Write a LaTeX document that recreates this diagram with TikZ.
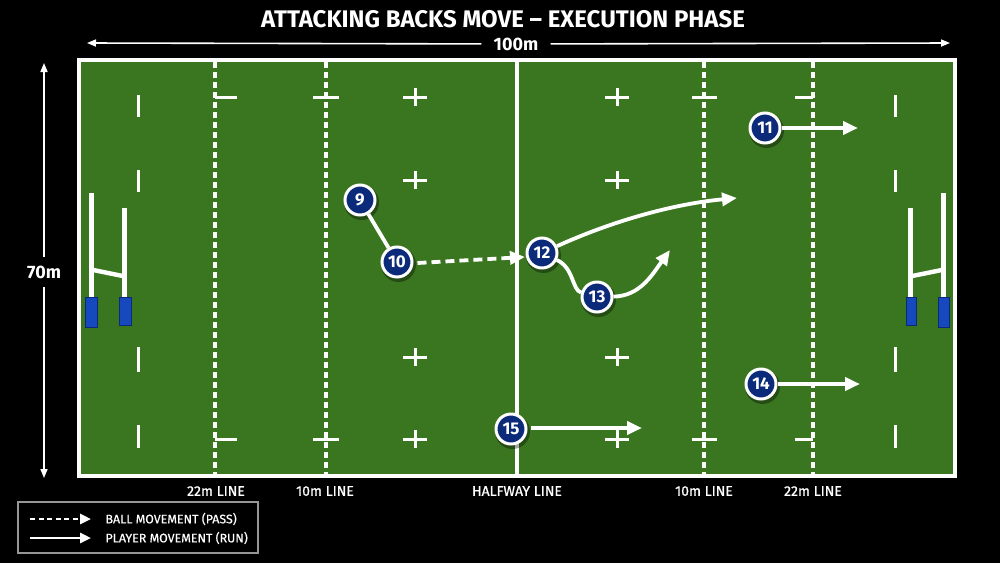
\documentclass[tikz,border=0pt]{standalone}
\usepackage{fontspec}
\setmainfont{Fira Sans}
\usetikzlibrary{arrows.meta}
\definecolor{grass}{RGB}{58,118,32}
\definecolor{navy}{RGB}{12,42,122}
\definecolor{padblue}{RGB}{22,72,190}
\definecolor{paddark}{RGB}{12,40,120}
\definecolor{legendgray}{RGB}{150,150,150}
\begin{document}
\begin{tikzpicture}[x=1pt,y=-1pt,
  fieldline/.style={white,line width=3pt},
  dashline/.style={white,line width=3.4pt,dash pattern=on 6pt off 4pt},
  player/.style={circle,draw=white,line width=3pt,fill=navy,minimum size=30pt,inner sep=0pt,text=white,font=\bfseries\fontsize{17}{17}\selectfont},
  run/.style={white,line width=3.8pt,-{Triangle[length=15pt,width=13pt]}},
  pass/.style={run,dash pattern=on 9pt off 5pt},
  plainrun/.style={white,line width=3.8pt},
  dimline/.style={white,line width=1.6pt,-{Triangle[length=9pt,width=7pt]}},
  dimlabel/.style={text=white,font=\bfseries\fontsize{18}{18}\selectfont,inner xsep=12pt,inner ysep=3pt},
  linelabel/.style={text=white,font=\fontsize{14}{14}\selectfont\addfontfeatures{FakeBold=0.8}},
  legendtext/.style={text=white,anchor=west,font=\fontsize{12.4}{13}\selectfont\addfontfeatures{FakeBold=0.5}},
  post/.style={fill=white},
  pad/.style={fill=padblue,draw=paddark,line width=1pt}
]
\useasboundingbox (0,0) rectangle (1000,563);
\fill[black] (0,0) rectangle (1000,563);

% pitch
\filldraw[fill=grass,draw=white,line width=4.2pt] (79,60) rectangle (955,476);

% field lines
\draw[white,line width=3.2pt] (517,62) -- (517,474);
\foreach \x in {215,326,704,813} \draw[dashline] (\x,62) -- (\x,474);

% line crossings
\foreach \y in {97,439} {
  \draw[fieldline] (215,\y) -- (237,\y);
  \draw[fieldline] (313,\y) -- (339,\y);
  \draw[fieldline] (692,\y) -- (717,\y);
  \draw[fieldline] (795,\y) -- (813,\y);
}
% 5m crosses
\foreach \x in {415,617} \foreach \y in {97,180,357,439} {
  \draw[fieldline] (\x-12,\y) -- (\x+12,\y);
  \draw[fieldline] (\x,\y-9) -- (\x,\y+9);
}
% 5m dashes near goal lines
\foreach \x in {138,895} {
  \draw[fieldline] (\x,95) -- (\x,117);
  \draw[fieldline] (\x,170) -- (\x,192);
  \draw[fieldline] (\x,347) -- (\x,372);
  \draw[fieldline] (\x,425) -- (\x,448);
}

% left goalposts
\fill[post] (89,193) rectangle (94,300);
\fill[post] (122,208) rectangle (127,300);
\fill[post] (92,267.5) -- (124,274) -- (124,278.5) -- (92,272) -- cycle;
\filldraw[pad] (85,297) rectangle (97,327);
\filldraw[pad] (119,297) rectangle (131,325);
% right goalposts
\fill[post] (908,208) rectangle (913,300);
\fill[post] (941,193) rectangle (946,300);
\fill[post] (911,274) -- (943,267.5) -- (943,272) -- (911,278.5) -- cycle;
\filldraw[pad] (906,297) rectangle (916,325);
\filldraw[pad] (938,297) rectangle (949,327);

% players
\foreach \px/\py in {360/200,397/262,542/253,597/297,765/128,761/384,511/429}
  \fill[black,opacity=0.35] (\px+1.5,\py+2.5) circle (17.5pt);
\node[player] (p9) at (360,200) {9};
\node[player] (p10) at (397,262) {10};
\node[player] (p12) at (542,253) {12};
\node[player] (p13) at (597,297) {13};
\node[player] (p11) at (765,128) {11};
\node[player] (p14) at (761,384) {14};
\node[player] (p15) at (511,429) {15};

% run targets
\coordinate (t12) at (737,198);
\coordinate (t13) at (670,250);
\coordinate (t11) at (858,128);
\coordinate (t14) at (860,384);
\coordinate (t15) at (642,428);
\coordinate (t10) at (525,257);

% connectors
\draw[plainrun] (p9) -- (p10);
\draw[pass] (p10.east) ++(4,1) -- (t10);
\draw[run] (p12) .. controls (610,222) and (672,204) .. (t12);
\draw[plainrun] (p12) .. controls (574,268) and (572,290) .. (p13);
\draw[run] (p13) .. controls (640,296) and (652,275) .. (t13);
\draw[run] (p11) -- (t11);
\draw[run] (p14) -- (t14);
\draw[run] (p15.east) ++(3,-1) -- (t15);

% title
\node[text=white,font=\bfseries\fontsize{24}{26}\selectfont] (title) at (503,19) {ATTACKING BACKS MOVE – EXECUTION PHASE};

% dimensions
\node[dimlabel] (w) at (516,44) {100m};
\coordinate (wl) at (87,43);
\coordinate (wr) at (950,43);
\draw[dimline] (w) -- (wl);
\draw[dimline] (w) -- (wr);
\node[dimlabel,inner xsep=2pt,inner ysep=8pt] (h) at (44,272) {70m};
\coordinate (ht) at (44,63);
\coordinate (hb) at (44,478);
\draw[dimline] (h) -- (ht);
\draw[dimline] (h) -- (hb);

% line labels
\node[linelabel] (l1) at (216,491) {22m LINE};
\node[linelabel] (l2) at (325,491) {10m LINE};
\node[linelabel] (l3) at (517,491) {HALFWAY LINE};
\node[linelabel] (l4) at (704,491) {10m LINE};
\node[linelabel] (l5) at (813,491) {22m LINE};

% legend
\node[draw=legendgray,line width=1.5pt,minimum width=240pt,minimum height=51pt,inner sep=0pt] (legend) at (138,527.5) {};
\coordinate (la1) at (30,519);
\coordinate (lb1) at (91,519);
\coordinate (la2) at (30,538);
\coordinate (lb2) at (91,538);
\draw[white,line width=2.6pt,dash pattern=on 5pt off 3.5pt,-{Triangle[length=11pt,width=10pt]}] (la1) -- (lb1);
\draw[white,line width=2.6pt,-{Triangle[length=11pt,width=10pt]}] (la2) -- (lb2);
\node[legendtext] (lt1) at (102,519) {BALL MOVEMENT (PASS)};
\node[legendtext] (lt2) at (102,538) {PLAYER MOVEMENT (RUN)};
\end{tikzpicture}
\end{document}
